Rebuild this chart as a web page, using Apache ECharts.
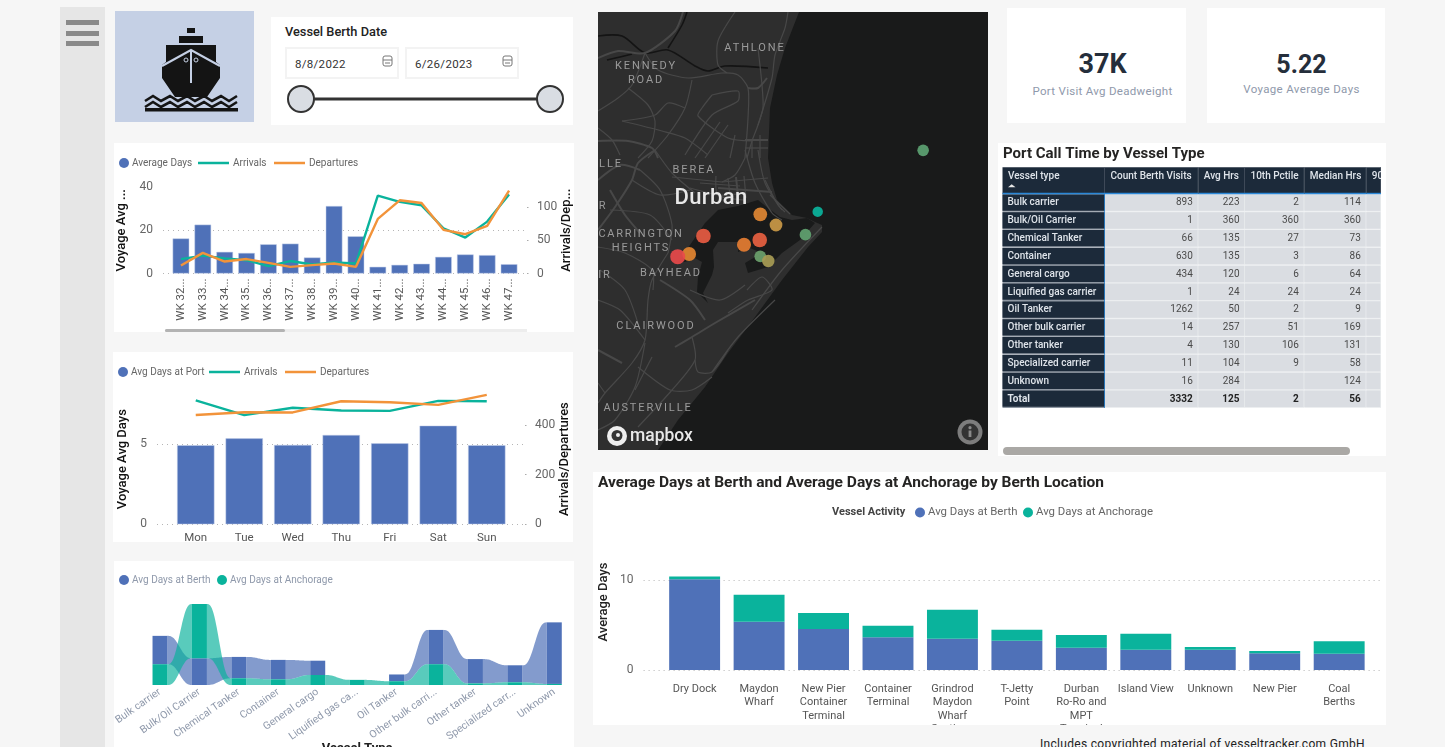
<!DOCTYPE html>
<html><head><meta charset="utf-8"><title>Durban Port Dashboard</title>
<script src="https://cdn.jsdelivr.net/npm/echarts@6/dist/echarts.min.js"></script>
<style>
html,body{margin:0;padding:0;width:1445px;height:747px;overflow:hidden;background:#f6f6f6;font-family:Roboto,sans-serif}
.a{position:absolute}.p{position:absolute;background:#fff}
.m{position:absolute;color:#9b9b9b;font-size:11px;letter-spacing:1.9px;white-space:nowrap;transform:translate(-50%,-50%);line-height:1}
.d{position:absolute;top:47px;width:110px;height:28px;border:2px solid #f3f3f3;font-size:11.5px;line-height:30px;color:#333;text-indent:8px;letter-spacing:.3px}
</style></head><body>
<div class="a" style="left:60px;top:7px;width:45px;height:740px;background:#e6e6e6"></div>
<div class="a" style="left:66px;top:20px;width:33px;height:5px;background:#8a8a8a"></div>
<div class="a" style="left:66px;top:31px;width:33px;height:5px;background:#8a8a8a"></div>
<div class="a" style="left:66px;top:41px;width:33px;height:5px;background:#8a8a8a"></div>
<svg class="a" style="left:115px;top:11px" width="139" height="111" viewBox="115 11 139 111">
<rect x="115" y="11" width="139" height="111" fill="#c5d0e5"/>
<g fill="#141414"><rect x="187" y="28" width="8" height="5"/><rect x="179" y="36" width="24" height="7"/>
<path d="M166 45H216V62L220 65V78L207 97H175L162 78V65L166 62Z"/></g>
<g fill="none" stroke="#c5d0e5"><path d="M162 66L191 50L220 66" stroke-width="2"/><path d="M191 50V83" stroke-width="2"/><circle cx="186" cy="60" r="2" stroke-width="1"/><circle cx="196" cy="60" r="2" stroke-width="1"/></g>
<g fill="none" stroke="#141414" stroke-width="2.6"><path d="M145 101L153 96L161 101L170 96L178 101L187 96L195 101L204 96L212 101L221 96L229 101L237 96"/><path d="M145 107L153 102L161 107L170 102L178 107L187 102L195 107L204 102L212 107L221 102L229 107L237 102"/></g>
<rect x="145" y="108" width="93" height="3.5" fill="#141414"/></svg>

<div class="p" style="left:271px;top:17px;width:302px;height:108px"></div>
<div class="a" style="left:285px;top:24px;font-size:12.8px;font-weight:500;color:#222">Vessel Berth Date</div>
<div class="d" style="left:285px">8/8/2022</div>
<div class="d" style="left:405px">6/26/2023</div>
<svg class="a" style="left:380px;top:54px" width="150" height="16" fill="none" stroke="#777"><rect x="3" y="2" width="9" height="10" rx="2"/><path d="M3 6H12M5 9H10"/><rect x="123" y="2" width="9" height="10" rx="2"/><path d="M123 6H132M125 9H130"/></svg>
<svg class="a" style="left:285px;top:83px" width="285" height="32"><path d="M16 16H265" stroke="#333" stroke-width="3"/><circle cx="16" cy="16" r="13" fill="#d9dde3" stroke="#333" stroke-width="2"/><circle cx="265" cy="16" r="13" fill="#d9dde3" stroke="#333" stroke-width="2"/></svg>

<div class="p" style="left:1007px;top:8px;width:179px;height:115px"></div>
<div class="p" style="left:1207px;top:8px;width:178px;height:115px"></div>
<div class="a" style="left:1007px;width:191px;top:48px;text-align:center;font-size:27px;font-weight:700;color:#252e3b;line-height:32px">37K</div>
<div class="a" style="left:1207px;width:189px;top:49px;text-align:center;font-size:25px;font-weight:700;color:#252e3b;line-height:32px">5.22</div>
<div class="a" style="left:1007px;width:191px;top:84px;text-align:center;font-size:11.5px;color:#8f99ab;letter-spacing:.3px">Port Visit Avg Deadweight</div>
<div class="a" style="left:1207px;width:189px;top:82px;text-align:center;font-size:11.5px;color:#8f99ab;letter-spacing:.35px">Voyage Average Days</div>

<div class="p" style="left:114px;top:143px;width:460px;height:189px"></div>
<div class="p" style="left:113px;top:352px;width:460px;height:190px"></div>
<div class="p" style="left:114px;top:561px;width:460px;height:186px"></div>
<div class="p" style="left:998px;top:143px;width:388px;height:313px"></div>
<div class="p" style="left:593px;top:472px;width:793px;height:253px"></div>
<div class="a" style="left:598px;top:12px;width:390px;height:438px;background:#191a1a;box-sizing:border-box"></div>

<div class="a" id="c1" style="left:114px;top:143px;width:460px;height:189px"></div>
<div class="a" style="left:165px;top:329px;width:362px;height:3px;background:#ededed"></div>
<div class="a" style="left:165px;top:329px;width:120px;height:3px;background:#b3b3b3;border-radius:2px"></div>
<div class="a" id="c2" style="left:113px;top:352px;width:460px;height:190px"></div>
<div class="a" id="c3" style="left:114px;top:561px;width:460px;height:186px"></div>
<div class="a" id="c4" style="left:593px;top:472px;width:793px;height:253px"></div>
<div class="a" id="c5" style="left:1000px;top:143px;width:381px;height:270px"></div>
<div class="a" style="left:1003px;top:447px;width:347px;height:7.5px;background:#aaa8a5;border-radius:4px"></div>
<div class="a" id="c6" style="left:598px;top:12px;width:390px;height:438px"></div>

<div class="m" style="left:755px;top:47px">ATHLONE</div>
<div class="m" style="left:646px;top:65px">KENNEDY</div>
<div class="m" style="left:646px;top:79px">ROAD</div>
<div class="m" style="left:611px;top:163px">LLE</div>
<div class="m" style="left:694px;top:169px">BEREA</div>
<div class="m" style="left:711px;top:197px;font-size:22px;letter-spacing:.4px;color:#e8e8e8;font-weight:500">Durban</div>
<div class="m" style="left:603px;top:205px">R</div>
<div class="m" style="left:641px;top:233px;letter-spacing:1.7px">CARRINGTON</div>
<div class="m" style="left:641px;top:247px">HEIGHTS</div>
<div class="m" style="left:671px;top:272px">BAYHEAD</div>
<div class="m" style="left:605px;top:274px">IR</div>
<div class="m" style="left:656px;top:325px">CLAIRWOOD</div>
<div class="m" style="left:648px;top:407px">AUSTERVILLE</div>
<svg class="a" style="left:606px;top:425px" width="24" height="24"><circle cx="11" cy="11" r="10" fill="#eee"/><circle cx="11" cy="10.5" r="5.5" fill="#333"/><circle cx="12" cy="10" r="2" fill="#eee"/></svg>
<div class="a" style="left:630px;top:424px;font-size:17.5px;font-weight:500;color:#e8e8e8;line-height:22px">mapbox</div>
<svg class="a" style="left:957px;top:419px" width="26" height="26"><circle cx="13" cy="13" r="12.5" fill="#7d7d7d"/><circle cx="13" cy="13" r="8.5" fill="#333"/><rect x="11.6" y="11.5" width="2.8" height="6.5" fill="#8a8a8a"/><circle cx="13" cy="8.7" r="1.6" fill="#8a8a8a"/></svg>
<div class="a" style="left:1040px;top:737px;font-size:12px;color:#222;white-space:nowrap;letter-spacing:.3px">Includes copyrighted material of vesseltracker.com GmbH</div>

<script>
// ---------- data ----------
const BLUE='#4f71b8',TEAL='#0ab39c',ORANGE='#f2933a';
const weeks=['WK 32...','WK 33...','WK 34...','WK 35...','WK 36...','WK 37...','WK 38...','WK 39...','WK 40...','WK 41...','WK 42...','WK 43...','WK 44...','WK 45...','WK 46...','WK 47...'];
const weekAvgDays=[16.2,22.6,10,9.5,13.5,13.8,7.4,31.2,17.2,3.1,4,4.5,7.7,8.8,8.5,4.3];
const weekArrivals=[21.7,26.8,22.7,20,11,18.7,13.6,16.7,15,117,107.6,102.5,68,54,78,118.7];
const weekDepartures=[12,31,18,21.7,16,10,12.6,15,10,82,110,106,65.6,59,71.7,124.7];
const days=['Mon','Tue','Wed','Thu','Fri','Sat','Sun'];
const dayAvgPort=[4.92,5.35,4.94,5.56,5.04,6.14,4.92];
const dayArrivals=[500,440,470,459,457.5,497.6,496];
const dayDepartures=[441,452,451,496,492,481.6,522];
const vesselTypes=['Bulk carrier','Bulk/Oil Carrier','Chemical Tanker','Container','General cargo','Liquified gas ca...','Oil Tanker','Other bulk carri...','Other tanker','Specialized carr...','Unknown'];
const typeBerth=[5.25,4.95,3.95,3.6,2.65,0,1.25,6.35,4.5,3.15,11.4];
const typeAnchorage=[3.85,10.05,1.25,1.05,1.85,0.95,0.7,3.85,0.3,0.5,0.2];
const locations=['Dry Dock','Maydon\nWharf','New Pier\nContainer\nTerminal','Container\nTerminal','Grindrod\nMaydon\nWharf\nSections','T-Jetty\nPoint','Durban\nRo-Ro and\nMPT\nTerminal','Island View','Unknown','New Pier','Coal\nBerths'];
const locBerth=[10.07,5.37,4.55,3.63,3.48,3.26,2.48,2.26,2.26,1.85,1.81];
const locAnchorage=[0.33,3.0,1.78,1.3,3.22,1.22,1.41,1.78,0.3,0.26,1.38];
const tableHeader=['Vessel type','Count Berth Visits','Avg Hrs','10th Pctile','Median Hrs','90th Pctile'];
const tableRows=['Bulk carrier','Bulk/Oil Carrier','Chemical Tanker','Container','General cargo','Liquified gas carrier','Oil Tanker','Other bulk carrier','Other tanker','Specialized carrier','Unknown','Total'];
const tableCount=[893,1,66,630,434,1,1262,14,4,11,16,3332];
const tableAvg=[223,360,135,135,120,24,50,257,130,104,284,125];
const tableP10=[2,360,27,3,6,24,2,51,106,9,'',2];
const tableMedian=[114,360,73,86,64,24,9,169,131,58,124,56];
const portLon=[31.1138,31.0769,31.0726,31.0568,31.0623,31.0566,31.0511,31.0369,31.0319,31.0279,31.0568,31.0596];
const portLat=[-29.8415,-29.8599,-29.8668,-29.8607,-29.8639,-29.8684,-29.8698,-29.8672,-29.8726,-29.8734,-29.8733,-29.8747];
const portDays=[4.1,2.0,4.2,8.0,6.3,9.6,8.6,9.8,8.2,10.4,4.4,5.6];

// ---------- helpers ----------
const FONT='Roboto';
const mk=id=>echarts.init(document.getElementById(id),null,{renderer:'canvas'});
const dotted={show:true,lineStyle:{type:[1,4],color:'#b5b5b5',width:1},showMaxLine:false};
const lg=(name,left,top,color,line,size)=>({data:[name],left,top,padding:0,selectedMode:false,icon:line?'rect':'circle',
  itemWidth:line?31:10,itemHeight:line?2.5:10,itemGap:0,itemStyle:{borderWidth:0},textStyle:{color,fontSize:size||10,fontFamily:FONT,padding:[0,0,0,line?-1:-2]}});
const hiddenX=g=>({gridIndex:g,type:'value',min:0,max:1,show:false});
const G=o=>Object.assign({outerBoundsMode:'none'},o);

function combo(cfg){
  return {animation:false,textStyle:{fontFamily:FONT},
    legend:cfg.legend,
    grid:[G(cfg.gridBack),G(cfg.gridFront)],
    xAxis:[hiddenX(0),{gridIndex:1,type:'category',data:cfg.cats,axisLine:{show:false},axisTick:{show:false},axisLabel:cfg.xLabel}],
    yAxis:[
      {gridIndex:0,type:'value',position:'left',min:0,max:cfg.lMax,interval:cfg.lInt,name:cfg.lName,nameLocation:'middle',nameGap:cfg.lGap,nameMoveOverlap:false,
       nameTextStyle:{color:'#111',fontSize:13,fontWeight:500,fontFamily:FONT},axisLine:{show:false},axisTick:{show:false},splitLine:dotted,
       axisLabel:{color:'#666',fontSize:12,margin:10,customValues:cfg.lTicks}},
      {gridIndex:0,type:'value',position:'right',min:0,max:cfg.rMax,interval:cfg.rInt,name:cfg.rName,nameLocation:'middle',nameGap:cfg.rGap,nameRotate:90,nameMoveOverlap:false,
       nameTextStyle:{color:'#111',fontSize:13,fontWeight:500,fontFamily:FONT},axisLine:{show:false},splitLine:{show:false},
       axisTick:{show:true,length:1.5,customValues:cfg.rTicks,lineStyle:{color:'#aaa'}},
       axisLabel:{color:'#666',fontSize:12,margin:10,customValues:cfg.rTicks}},
      {gridIndex:1,type:'value',min:0,max:cfg.lMax,show:false},
      {gridIndex:1,type:'value',min:0,max:cfg.rMax,show:false}
    ],
    series:[
      {name:cfg.barName,type:'bar',xAxisIndex:1,yAxisIndex:2,data:cfg.bars,barWidth:cfg.barWidth,itemStyle:{color:BLUE,borderColor:'#c3cfe8',borderWidth:.5}},
      {name:'Arrivals',type:'line',xAxisIndex:1,yAxisIndex:3,data:cfg.arr,showSymbol:false,clip:false,lineStyle:{color:TEAL,width:2.4},itemStyle:{color:TEAL}},
      {name:'Departures',type:'line',xAxisIndex:1,yAxisIndex:3,data:cfg.dep,showSymbol:false,clip:false,lineStyle:{color:ORANGE,width:2.4},itemStyle:{color:ORANGE}}
    ]};
}

// ---------- chart 1 ----------
mk('c1').setOption(combo({
  legend:[lg('Average Days',5,15,'#666'),lg('Arrivals',84,15,'#666',true),lg('Departures',160,15,'#666',true)],
  gridBack:{left:49,width:364,top:44,height:86.5},gridFront:{left:56,width:350,top:44,height:86.5},
  cats:weeks,xLabel:{rotate:90,interval:0,margin:5,color:'#555',fontSize:11.5,hideOverlap:false},
  lMax:40,lInt:20,lTicks:[0,20,40],lName:'Voyage Avg ...',lGap:35,
  rMax:130,rInt:50,rTicks:[0,50,100],rName:'Arrivals/Dep...',rGap:33,
  barName:'Average Days',bars:weekAvgDays,barWidth:'76%',arr:weekArrivals,dep:weekDepartures}));

// ---------- chart 2 ----------
mk('c2').setOption(combo({
  legend:[lg('Avg Days at Port',5,15,'#666'),lg('Arrivals',96,15,'#666',true),lg('Departures',172,15,'#666',true)],
  gridBack:{left:44,width:368,top:42,height:130.3},gridFront:{left:58.5,width:339.5,top:42,height:130.3},
  cats:days,xLabel:{interval:0,margin:8,color:'#555',fontSize:11.5},
  lMax:8.11,lInt:5,lTicks:[0,5],lName:'Voyage Avg Days',lGap:28,
  rMax:525.4,rInt:200,rTicks:[0,200,400],rName:'Arrivals/Departures',rGap:33,
  barName:'Avg Days at Port',bars:dayAvgPort,barWidth:'77%',arr:dayArrivals,dep:dayDepartures}));

// ---------- chart 3: ribbon ----------
function ribbon(own,other,fill,solid){
  const span=(i)=>{const b=own[i]<other[i]?0:other[i];return [b,b+own[i]];};
  return (params,api)=>{
    const i=api.value(0),band=api.size([1,0])[0],bw=band*0.38,ch=[];
    const [b,t]=span(i),l=api.coord([i,t]),r=api.coord([i,b]);
    if(i<own.length-1&&own[i]>0&&own[i+1]>0){
      const [b2,t2]=span(i+1),p0=api.coord([i,t]),p1=api.coord([i,b]),q0=api.coord([i+1,t2]),q1=api.coord([i+1,b2]);
      const xa=p0[0]+bw/2,xb=q0[0]-bw/2,top=[],bot=[];
      for(let k=0;k<=30;k++){const u=k/30,s=u*u*u*(u*(6*u-15)+10),x=xa+(xb-xa)*u;
        top.push([x,p0[1]+(q0[1]-p0[1])*s]);bot.unshift([x,p1[1]+(q1[1]-p1[1])*s]);}
      ch.push({type:'polygon',shape:{points:top.concat(bot)},style:{fill}});
    }
    if(own[i]>0) ch.push({type:'rect',shape:{x:l[0]-bw/2,y:l[1],width:bw,height:r[1]-l[1]},style:{fill:solid}});
    return {type:'group',children:ch};
  };
}
mk('c3').setOption({animation:false,textStyle:{fontFamily:FONT},
  legend:[lg('Avg Days at Berth',5,14,'#8f99ab'),lg('Avg Days at Anchorage',103,14,'#8f99ab')],
  grid:G({left:26.3,width:433.7,top:43,height:81}),
  xAxis:{type:'category',data:vesselTypes,axisLine:{show:false},axisTick:{show:false},
    axisLabel:{rotate:35,interval:0,margin:6,color:'#8f99ab',fontSize:10.5},
    name:'Vessel Type',nameLocation:'middle',nameGap:57,nameMoveOverlap:false,nameTextStyle:{color:'#222',fontSize:13,fontWeight:'bold'}},
  yAxis:{type:'value',min:0,max:15,show:false},
  series:[
    {name:'Avg Days at Berth',type:'custom',clip:false,itemStyle:{color:BLUE},encode:{x:0,y:1},data:typeBerth.map((v,i)=>[i,v]),renderItem:ribbon(typeBerth,typeAnchorage,'rgba(79,113,184,.7)',BLUE)},
    {name:'Avg Days at Anchorage',type:'custom',clip:false,itemStyle:{color:TEAL},encode:{x:0,y:1},data:typeAnchorage.map((v,i)=>[i,v]),renderItem:ribbon(typeAnchorage,typeBerth,'rgba(10,179,156,.68)',TEAL)}
  ]});

// ---------- chart 4: stacked bars ----------
mk('c4').setOption({animation:false,textStyle:{fontFamily:FONT},
  title:[{text:'Average Days at Berth and Average Days at Anchorage by Berth Location',left:5,top:3,padding:0,textStyle:{fontSize:15.5,fontWeight:'bold',color:'#252423',fontFamily:FONT}},
         {text:'Vessel Activity',left:239,top:35,padding:0,textStyle:{fontSize:11,fontWeight:'bold',color:'#444',fontFamily:FONT}}],
  legend:[lg('Avg Days at Berth',322,35,'#666',false,11.4),lg('Avg Days at Anchorage',430,35,'#666',false,11.4)],
  grid:[G({left:50.6,width:739.4,top:62,height:136}),G({left:69.4,width:709,top:99,height:99})],
  xAxis:[hiddenX(0),{gridIndex:1,type:'category',data:locations,axisLine:{show:false},axisTick:{show:false},axisLabel:{interval:0,margin:12,color:'#555',fontSize:11,lineHeight:13.5,align:'center',verticalAlign:'top'}}],
  yAxis:[{gridIndex:0,type:'value',min:0,max:15.11,interval:10,name:'Average Days',nameLocation:'middle',nameGap:33,nameMoveOverlap:false,nameTextStyle:{color:'#222',fontSize:13,fontWeight:500,fontFamily:FONT},
          axisLine:{show:false},axisTick:{show:false},splitLine:dotted,axisLabel:{color:'#666',fontSize:12,margin:10,customValues:[0,10]}},
         {gridIndex:1,type:'value',min:0,max:11,show:false}],
  series:[
    {name:'Avg Days at Berth',type:'bar',stack:'a',xAxisIndex:1,yAxisIndex:1,barWidth:'79%',data:locBerth,itemStyle:{color:BLUE}},
    {name:'Avg Days at Anchorage',type:'bar',stack:'a',xAxisIndex:1,yAxisIndex:1,barWidth:'79%',data:locAnchorage,itemStyle:{color:TEAL}}
  ]});

// ---------- table ----------
const colEdges=[0,102.5,195.8,242.5,301.8,363.8,378.5];
const NAVY='#1c2a3a';
function cell(params,api){
  const c=api.value(0),r=api.value(1),txt=api.value(2),bold=api.value(3),head=api.value(4);
  const x0=api.coord([colEdges[c],r])[0],x1=api.coord([colEdges[c+1],r])[0],yc=api.coord([0,r])[1],h=api.size([0,1])[1];
  const ch=[],y=yc-h/2,w=x1-x0;
  if(head){
    ch.push({type:'rect',shape:{x:x0,y,width:w,height:h},style:{fill:NAVY}});
    ch.push({type:'rect',shape:{x:x1-.6,y,width:.6,height:h},style:{fill:'#55606d'}});
    ch.push({type:'text',style:{text:txt,x:x0+5.5,y:y+9.4,align:'left',verticalAlign:'middle',fill:'#dfe4ea',font:'500 10px '+FONT}});
    if(c===0)ch.push({type:'polygon',shape:{points:[[x0+5.5,y+20],[x0+13,y+20],[x0+9.2,y+17]]},style:{fill:'#e8e8e8'}});
    ch.push({type:'rect',shape:{x:x0,y:y+h-1.2,width:w,height:1.4},style:{fill:'#2b88d8'}});
  }else if(c===0){
    ch.push({type:'rect',shape:{x:x0,y,width:w,height:h},style:{fill:'#8f98a3'}});
    ch.push({type:'rect',shape:{x:x0,y:y+.4,width:w,height:h-1.6},style:{fill:NAVY}});
    ch.push({type:'rect',shape:{x:x1-.8,y,width:1,height:h},style:{fill:'#2b88d8'}});
    ch.push({type:'text',style:{text:txt,x:x0+5,y:yc,align:'left',verticalAlign:'middle',fill:'#dfe4ea',font:(bold?'700':'500')+' 10px '+FONT}});
  }else{
    ch.push({type:'rect',shape:{x:x0,y,width:w,height:h},style:{fill:'#eceef0'}});
    ch.push({type:'rect',shape:{x:x0,y:y+.3,width:w-.7,height:h-1.3},style:{fill:'#dadde2'}});
    ch.push({type:'text',style:{text:String(txt),x:x1-5.5,y:yc,align:'right',verticalAlign:'middle',fill:bold?'#222':'#4a4a4a',font:(bold?'700':'400')+' 10px '+FONT}});
  }
  return {type:'group',children:ch};
}
const bodyData=[];
tableRows.forEach((n,r)=>{const t=r===tableRows.length-1?1:0;
  [n,tableCount[r],tableAvg[r],tableP10[r],tableMedian[r],''].forEach((v,c)=>bodyData.push([c,r,v,t,0]));});
const headData=tableHeader.map((v,c)=>[c,0,v,0,1]);
mk('c5').setOption({animation:false,
  title:{text:'Port Call Time by Vessel Type',left:3,top:4,padding:0,textStyle:{fontSize:15,fontWeight:'bold',color:'#252423',fontFamily:FONT}},
  grid:[G({left:2.5,width:378.5,top:51,height:214}),G({left:2.5,width:378.5,top:24.3,height:26.7})],
  xAxis:[{gridIndex:0,type:'value',min:0,max:378.5,show:false},{gridIndex:1,type:'value',min:0,max:378.5,show:false}],
  yAxis:[{gridIndex:0,type:'category',inverse:true,data:tableRows,show:false},{gridIndex:1,type:'category',data:['h'],show:false}],
  series:[
    {type:'custom',xAxisIndex:0,yAxisIndex:0,clip:false,encode:{x:0,y:1},data:bodyData,renderItem:cell},
    {type:'custom',xAxisIndex:1,yAxisIndex:1,clip:false,encode:{x:0,y:1},data:headData,renderItem:cell}
  ]});

// ---------- map ----------
const O=[598,12],P=a=>a.map(q=>[q[0]-O[0],q[1]-O[1]]);
const land=[[598,12],[799,12],[785,48],[777,75],[770,108],[768,158],[772,183],[777,200],[792,215],[807,218],[815,222],[822,225],[822,232],[808,247],[782,280],[755,317],[728,353],[705,387],[678,420],[658,450],[598,450]];
const harbour=[[738,206],[758,200],[768,208],[780,217],[792,220],[807,218],[815,223],[800,240],[782,253],[768,267],[748,273],[745,263],[762,253],[750,248],[738,252],[738,242],[718,242],[713,250],[714,267],[712,275],[703,293],[708,303],[697,292],[698,277],[702,262],[695,258],[685,262],[678,262],[690,245],[705,223],[718,210]];
const rivers=[[[598,36],[622,36],[645,53],[668,50],[695,66],[708,71],[725,66],[768,68]],[[668,48],[682,25],[687,12]],[[607,60],[620,57],[632,54]]];
const roads=[
[[683,12],[675,31],[645,53],[618,51],[598,58]],[[645,53],[658,70],[688,78],[722,73],[738,75],[748,88],[748,118],[745,158]],
[[735,12],[718,41],[718,65],[727,73]],[[788,12],[785,28],[775,55],[772,78],[758,125],[752,141],[747,158]],
[[758,48],[762,85],[763,108],[758,125]],[[748,88],[758,88],[767,78]],[[712,95],[702,108],[698,116],[728,138],[752,141]],
[[712,95],[738,91],[738,101],[712,115],[685,155]],[[692,80],[685,108],[668,135],[648,158]],[[598,111],[618,98],[632,85],[645,53]],
[[598,141],[628,141],[652,148],[658,158]],[[622,121],[655,115],[668,103],[685,108]],[[622,121],[662,131],[685,138],[708,155]],
[[628,88],[648,105],[655,121],[652,141],[638,158]],[[722,182],[768,178]],[[718,188],[772,192]],[[745,150],[755,183],[772,213],[782,220]],
[[758,150],[765,183],[782,210]],[[672,177],[722,182]],[[655,150],[672,173],[695,193]],[[598,230],[615,207],[632,180],[638,163],[655,150]],
[[598,247],[625,253],[652,270],[653,290]],[[668,253],[652,280],[648,300],[645,340],[632,363],[605,393],[598,403]],
[[645,343],[635,387],[615,420],[598,430]],[[652,357],[635,390]],[[675,347],[692,337],[715,323],[755,300]],[[692,337],[695,360],[672,390],[638,427]],
[[695,360],[698,372],[712,372],[728,350]],[[775,300],[738,337],[712,372]],[[638,367],[670,390],[692,390],[712,377]],[[598,350],[622,363]],[[598,383],[605,393]],
[[822,227],[782,270],[752,310]],[[747,290],[762,277],[772,290],[748,300],[728,313]],[[640,170],[660,190],[672,225],[668,253]],[[610,190],[625,215],[640,233]],[[745,158],[735,175],[722,182]],
[[695,158],[720,122]],[[705,158],[728,125]],[[730,158],[735,135]],[[745,140],[768,140]],[[745,148],[768,148]],[[752,141],[752,158]],[[760,135],[760,158]],
[[728,178],[730,195]],[[736,177],[738,196]],[[744,176],[746,198]],[[716,176],[718,195],[745,200]],[[700,183],[740,186]],[[690,188],[720,195],[745,193]],
[[598,180],[620,165],[640,170]],[[632,180],[660,195],[690,190]],[[610,210],[650,215],[672,240]],[[600,270],[625,290],[640,330]],[[598,300],[620,310],[645,340]],
[[660,280],[690,300],[705,320]],[[690,290],[720,300],[745,285]],[[765,180],[778,205],[785,212]],[[770,195],[790,214]],[[598,128],[612,140],[620,155]]];
const mapBase=[{type:'polygon',shape:{points:P(land)},style:{fill:'#2e2e2e'},silent:true},
  {type:'polygon',shape:{points:P(harbour)},style:{fill:'#191a1a'},silent:true}]
  .concat(rivers.map(r=>({type:'polyline',shape:{points:P(r),smooth:.3},style:{stroke:'#141414',lineWidth:1.6,fill:null},silent:true})))
  .concat(roads.map((r,i)=>({type:'polyline',shape:{points:P(r),smooth:.25},style:{stroke:'#484848',lineWidth:i%5===0?2:1.2,fill:null},silent:true})));
mk('c6').setOption({animation:false,
  grid:G({left:0,top:0,right:0,bottom:0}),
  xAxis:{type:'value',min:31.0,max:31.1365,show:false},
  yAxis:{type:'value',min:-29.9314,max:-29.80,show:false},
  graphic:{elements:mapBase},
  visualMap:{show:false,dimension:2,min:2,max:10.5,seriesIndex:0,inRange:{color:[TEAL,'#5da271','#c99a48','#e5832f','#e8474c']}},
  series:[{type:'scatter',data:portLon.map((x,i)=>[x,portLat[i],portDays[i]]),symbolSize:v=>2*(4.7+v[2]*0.27),itemStyle:{opacity:.92}}]
});
</script>
</body></html>
